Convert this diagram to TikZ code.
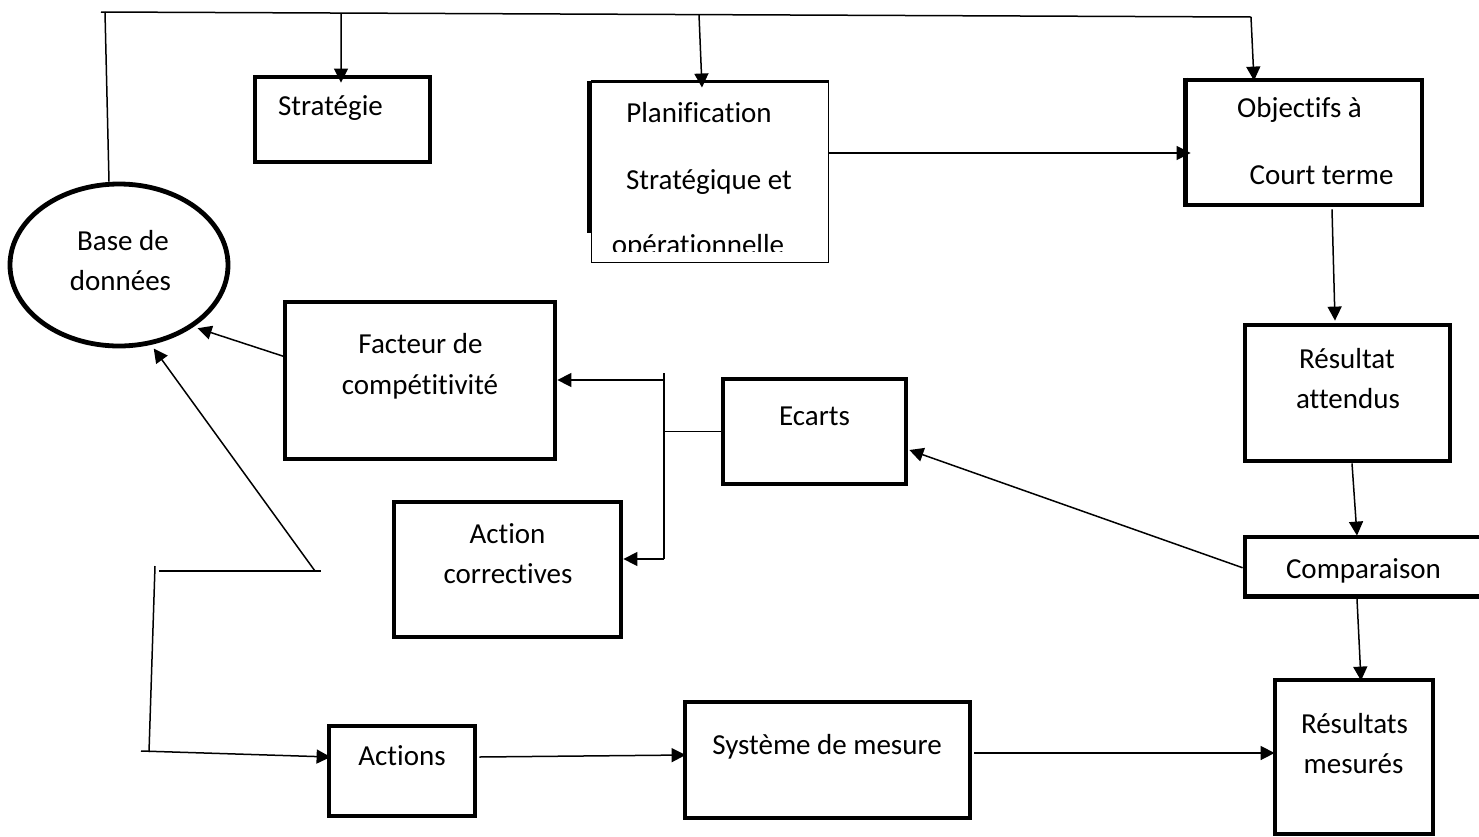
\documentclass[tikz,border=0pt]{standalone}
\usepackage{fontspec}
\setmainfont[Ligatures=NoCommon]{Carlito}
\usetikzlibrary{arrows.meta,shapes.geometric,calc}

\begin{document}
\begin{tikzpicture}[x=0.5pt,y=-0.5pt,
  thickbox/.style={draw,rectangle,line width=2.4pt,inner sep=0pt},
  thinbox/.style={draw,rectangle,line width=0.5pt,inner sep=0pt},
  lbl/.style={anchor=base,inner sep=0pt,font=\fontsize{14.5}{17}\selectfont},
  link/.style={line width=0.75pt},
  arr/.style={link,-{Triangle[length=7pt,width=7pt]}},
]
\path[use as bounding box,fill=white] (0,0) rectangle (1479,836);

% ---- boxes ----
\node[draw,ellipse,line width=2.4pt,inner sep=0pt,minimum width=109pt,minimum height=81pt] (db) at (119,265) {};
\node[thickbox,minimum width=87.5pt,minimum height=42.5pt] (strat) at (342.5,119.5) {};
\node[thinbox,minimum width=118.5pt,minimum height=90pt] (plan) at (709.5,172) {};
\node[thickbox,minimum width=118.5pt,minimum height=62.5pt] (obj) at (1303.5,142.5) {};
\node[thickbox,minimum width=102.5pt,minimum height=68pt] (res) at (1347.5,393) {};
\node[thickbox,minimum width=118.5pt,minimum height=29.75pt] (cmp) at (1363.5,566.75) {};
\node[thickbox,minimum width=79pt,minimum height=77pt] (resm) at (1354,757) {};
\node[thickbox,minimum width=91.5pt,minimum height=52.5pt] (ec) at (814.5,431.5) {};
\node[thickbox,minimum width=135pt,minimum height=78.5pt] (fact) at (420,380.5) {};
\node[thickbox,minimum width=113.5pt,minimum height=67.5pt] (acor) at (507.5,569.5) {};
\node[thickbox,minimum width=73pt,minimum height=45pt] (act) at (402,771) {};
\node[thickbox,minimum width=142.5pt,minimum height=58pt] (sys) at (827.5,760) {};

% heavier left and top edges of the planning box
\draw[line width=2.5pt] ([shift={(-0.75pt,0.5pt)}]plan.north west) -- ([shift={(-0.75pt,15pt)}]plan.south west);
\draw[line width=1.5pt] (plan.north west) -- (plan.north east);
% double left edge of the objectives box
\draw[line width=0.5pt] ([xshift=2.4pt]obj.north west) -- ([xshift=2.4pt]obj.south west);
% thin right edge of the comparison box
\draw[line width=0.5pt,gray] ([shift={(-2pt,1pt)}]cmp.north east) -- ([shift={(-2pt,-1pt)}]cmp.south east);

% ---- labels ----
\node[lbl] (db-t1) at (123,250) {Base de};
\node[lbl] (db-t2) at (120.5,290) {données};
\node[lbl] (strat-t) at (330.5,115) {Stratégie};
\node[lbl] (plan-t1) at (699,122) {Planification};
\node[lbl] (plan-t2) at (709,189) {Stratégique et};
\begin{scope}
  \clip (592,84) rectangle (827,251);
  \node[lbl] (plan-t3) at (698,254) {opérationnelle};
\end{scope}
\node[lbl] (obj-t1) at (1299.5,117) {Objectifs à};
\node[lbl] (obj-t2) at (1321.5,184) {Court terme};
\node[lbl] (res-t1) at (1347,368) {Résultat};
\node[lbl] (res-t2) at (1348,408) {attendus};
\node[lbl] (cmp-t) at (1363.5,578) {Comparaison};
\node[lbl] (resm-t1) at (1354.5,733) {Résultats};
\node[lbl] (resm-t2) at (1353.5,773) {mesurés};
\node[lbl] (ec-t) at (814.5,425) {Ecarts};
\node[lbl] (fact-t1) at (420.5,353) {Facteur de};
\node[lbl] (fact-t2) at (420,394) {compétitivité};
\node[lbl] (acor-t1) at (507.5,543) {Action};
\node[lbl] (acor-t2) at (508,583) {correctives};
\node[lbl] (act-t) at (402,765) {Actions};
\node[lbl] (sys-t) at (827,754) {Système de mesure};

% ---- top distribution line from the database ----
\coordinate (topL) at (101,12);
\coordinate (topR) at (1251,17);
\draw[link] (topL) -- (topR);
\draw[link] ([xshift=2pt]topL) -- ([xshift=-5pt]db.north);
\draw[arr] ($(topL)!0.2087!(topR)$) -- ([shift={(-0.75pt,-4pt)}]strat.north);
\draw[arr] ($(topL)!0.52!(topR)$) -- ([shift={(-3.75pt,-3pt)}]plan.north);
\draw[arr] (topR) -- ([shift={(-24.75pt,-1.5pt)}]obj.north);

% ---- main chain ----
\draw[arr] ([yshift=9.5pt]plan.east) -- ([shift={(4pt,-5.25pt)}]obj.west);
\draw[arr] ([shift={(14.25pt,-1pt)}]obj.south) -- ([shift={(-6.25pt,1pt)}]res.north);
\draw[arr] ([xshift=2.25pt]res.south) -- ([shift={(-3.25pt,-0.5pt)}]cmp.north);
\draw[arr] ([xshift=-3.25pt]cmp.south) -- ([shift={(3.5pt,-1.5pt)}]resm.north);
\draw[arr] ([yshift=-0.5pt]cmp.west) -- ([shift={(0.5pt,-9.25pt)}]ec.east);

% ---- deviations split ----
\coordinate (jtop) at (664,373);
\coordinate (jbot) at (664,559);
\coordinate (jf) at (664,380);
\draw[link] (jtop) -- (jbot);
\draw[link] (ec.west) -- (ec.west -| jtop);
\draw[arr] (jf) -- (jf -| fact.east);
\draw[arr] (jbot) -- (jbot -| acor.east);

% ---- feedback to the database ----
\draw[arr] ([shift={(1.5pt,11.75pt)}]fact.west) -- ([shift={(1.5pt,-1pt)}]db.-39);
\coordinate (hL) at (159,571);
\coordinate (hR) at (321,571);
\coordinate (vT) at (155,566);
\coordinate (vB) at (149,752);
\coordinate (hS) at (141,751);
\draw[link] (hL) -- (hR);
\draw[arr] ([xshift=-3pt]hR) -- ([shift={(0.5pt,-2pt)}]db.-67);
\draw[link] (vT) -- (vB);
\draw[arr] (hS) -- ([shift={(2pt,7pt)}]act.west);

% ---- measurement chain ----
\draw[arr] ([shift={(1pt,7pt)}]act.east) -- ([shift={(1.5pt,2.5pt)}]sys.west);
\draw[arr] ([shift={(1pt,3.5pt)}]sys.east) -- ([shift={(1pt,2pt)}]resm.west);
\end{tikzpicture}
\end{document}
